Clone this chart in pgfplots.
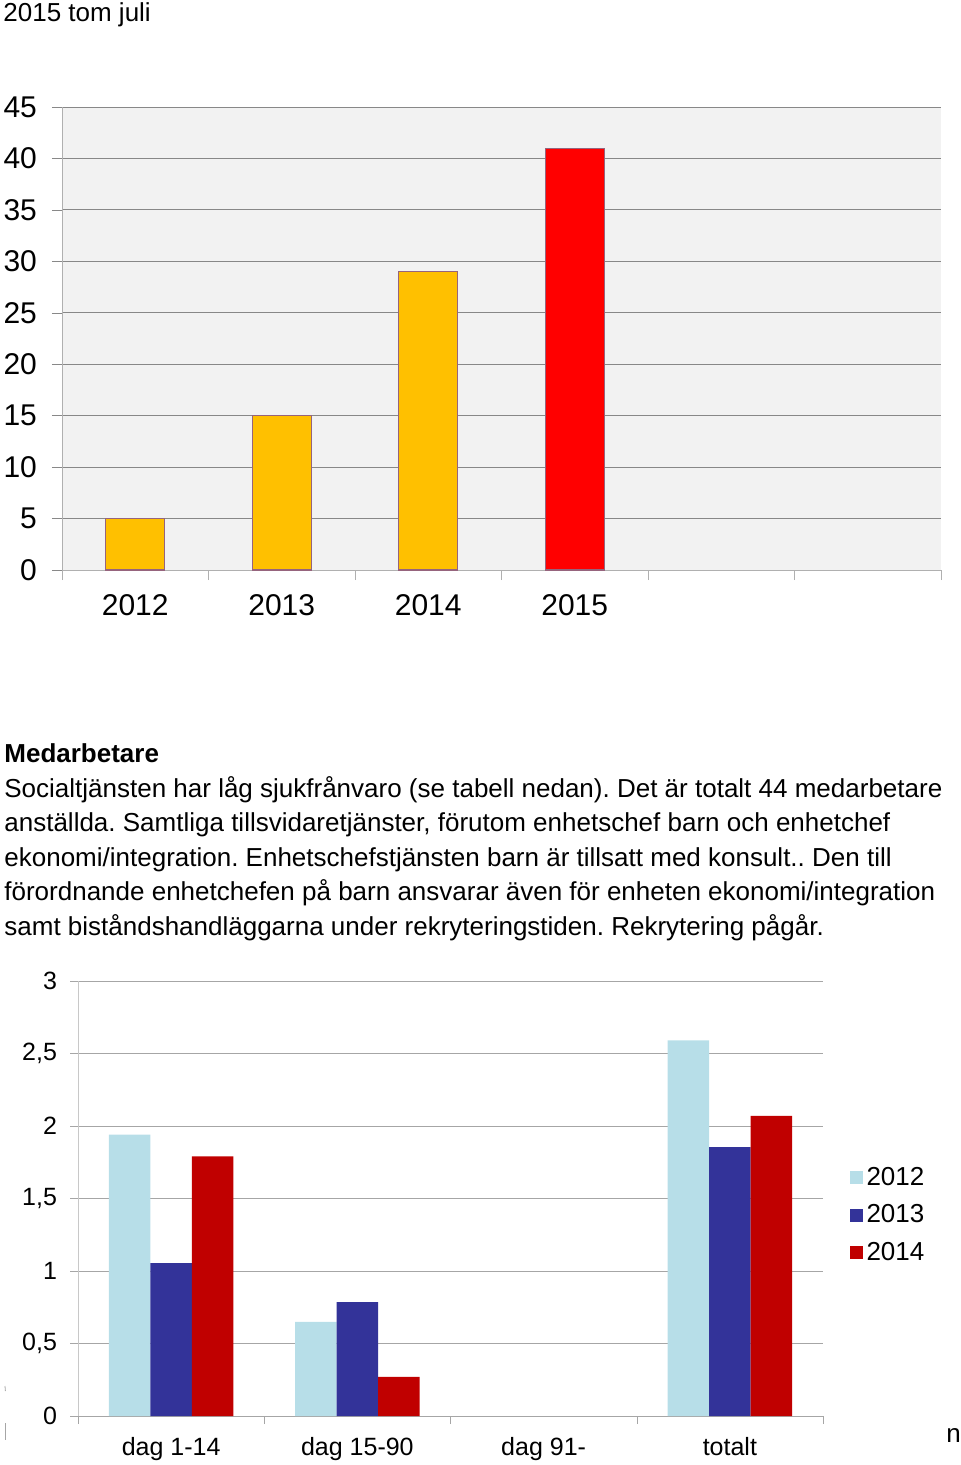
\documentclass[border=0pt]{standalone}
\usepackage{fontspec}
\setmainfont{Liberation Sans}
\usepackage{pgfplots}
\pgfplotsset{compat=1.18}
\frenchspacing
\definecolor{cOrange}{HTML}{FFC000}
\definecolor{cRed}{HTML}{FF0000}
\definecolor{cBorder}{RGB}{150,100,125}
\definecolor{bgGray}{HTML}{F2F2F2}
\definecolor{gridA}{HTML}{888888}
\definecolor{axA}{HTML}{B0B0B0}
\definecolor{cLight}{HTML}{B7DEE8}
\definecolor{cDark}{HTML}{333399}
\definecolor{cDRed}{HTML}{C00000}
\definecolor{gridB}{HTML}{A6A6A6}
\definecolor{axB}{HTML}{C8C8C8}
\begin{document}
\begin{tikzpicture}
\useasboundingbox (0,0) rectangle (480pt,-732.5pt);
\node[anchor=base west, inner sep=0, font=\fontsize{13}{15}\selectfont] at (1.5pt,-11pt) {2015 tom juli};

\begin{axis}[
  at={(31pt,-285pt)}, anchor=south west, scale only axis,
  width=439.5pt, height=231.5pt,
  xmin=-0.5, xmax=5.5, ymin=0, ymax=45,
  ytick={0,5,...,45},
  xtick={0,1,2,3}, xticklabels={2012,2013,2014,2015},
  minor xtick={-0.5,0.5,...,5.5},
  major x tick style={draw=none},
  minor x tick style={draw=axA},
  ytick style={draw=gridA},
  tick align=outside, major tick length=5pt, minor tick length=5pt,
  ymajorgrids, grid style={draw=gridA, line width=0.5pt},
  axis background/.style={fill=bgGray},
  axis x line*=bottom, axis y line*=left,
  x axis line style={draw=axA, -}, y axis line style={draw=axA, -},
  /pgf/number format/assume math mode=true,
  tick label style={font=\fontsize{15}{18}\selectfont},
  xticklabel style={yshift=-3.5pt},
  yticklabel style={xshift=-4pt},
]
\addplot[ybar, bar shift=0pt, bar width=29.5pt, fill=cOrange, draw=cBorder, line width=0.6pt] coordinates {(0,5) (1,15) (2,29)};
\addplot[ybar, bar shift=0pt, bar width=29.5pt, fill=cRed, draw=cBorder, line width=0.6pt] coordinates {(3,41)};
\end{axis}

\begin{scope}[font=\fontsize{13}{17.25}\selectfont]
\node[anchor=base west, inner sep=0] at (2pt,-381pt) {\bfseries Medarbetare};
\node[anchor=base west, inner sep=0] at (2pt,-398.5pt) {Socialtjänsten har låg sjukfrånvaro (se tabell nedan). Det är totalt 44 medarbetare};
\node[anchor=base west, inner sep=0] at (2pt,-415.5pt) {anställda. Samtliga tillsvidaretjänster, förutom enhetschef barn och enhetchef};
\node[anchor=base west, inner sep=0] at (2pt,-433pt) {ekonomi/integration. Enhetschefstjänsten barn är tillsatt med konsult.. Den till};
\node[anchor=base west, inner sep=0] at (2pt,-450pt) {förordnande enhetchefen på barn ansvarar även för enheten ekonomi/integration};
\node[anchor=base west, inner sep=0] at (2pt,-467.5pt) {samt biståndshandläggarna under rekryteringstiden. Rekrytering pågår.};
\end{scope}

\begin{axis}[
  at={(39pt,-708pt)}, anchor=south west, scale only axis,
  width=372.5pt, height=217.5pt,
  xmin=-0.5, xmax=3.5, ymin=0, ymax=3,
  ytick={0,0.5,...,3},
  xtick={0,1,2,3}, xticklabels={dag 1-14, dag 15-90, dag 91-, totalt},
  minor xtick={-0.5,0.5,...,3.5},
  major x tick style={draw=none},
  minor x tick style={draw=gridB},
  ytick style={draw=gridB},
  tick align=outside, major tick length=4pt, minor tick length=4pt,
  ymajorgrids, grid style={draw=gridB, line width=0.5pt},
  axis x line*=bottom, axis y line*=left,
  x axis line style={draw=gridB, -}, y axis line style={draw=axB, -},
  /pgf/number format/assume math mode=true,
  /pgf/number format/use comma,
  tick label style={font=\fontsize{12.5}{15}\selectfont},
  xticklabel style={yshift=-3pt},
  yticklabel style={xshift=-3pt},
  ybar=0pt, bar width=20.75pt,
  legend style={at={(1.027,0.592)}, anchor=north west, draw=none, fill=none,
    font=\fontsize{13}{15}\selectfont, row sep=4.2pt},
  legend cell align=left,
  legend image code/.code={\fill[#1] (0pt,-3.25pt) rectangle (6.5pt,3.25pt);},
]
\addplot[fill=cLight, draw=none] coordinates {(0,1.94) (1,0.65) (3,2.59)};
\addplot[fill=cDark, draw=none] coordinates {(0,1.055) (1,0.785) (3,1.855)};
\addplot[fill=cDRed, draw=none] coordinates {(0,1.79) (1,0.27) (3,2.07)};
\legend{2012,2013,2014}
\end{axis}

\draw[gray!70] (2.5pt,-711.5pt) -- (2.5pt,-720pt);
\draw[gray!70] (2.5pt,-693pt) -- (2.7pt,-695.5pt);
\node[anchor=base west, inner sep=0, font=\fontsize{13}{15}\selectfont] at (473pt,-721pt) {n};
\end{tikzpicture}
\end{document}
